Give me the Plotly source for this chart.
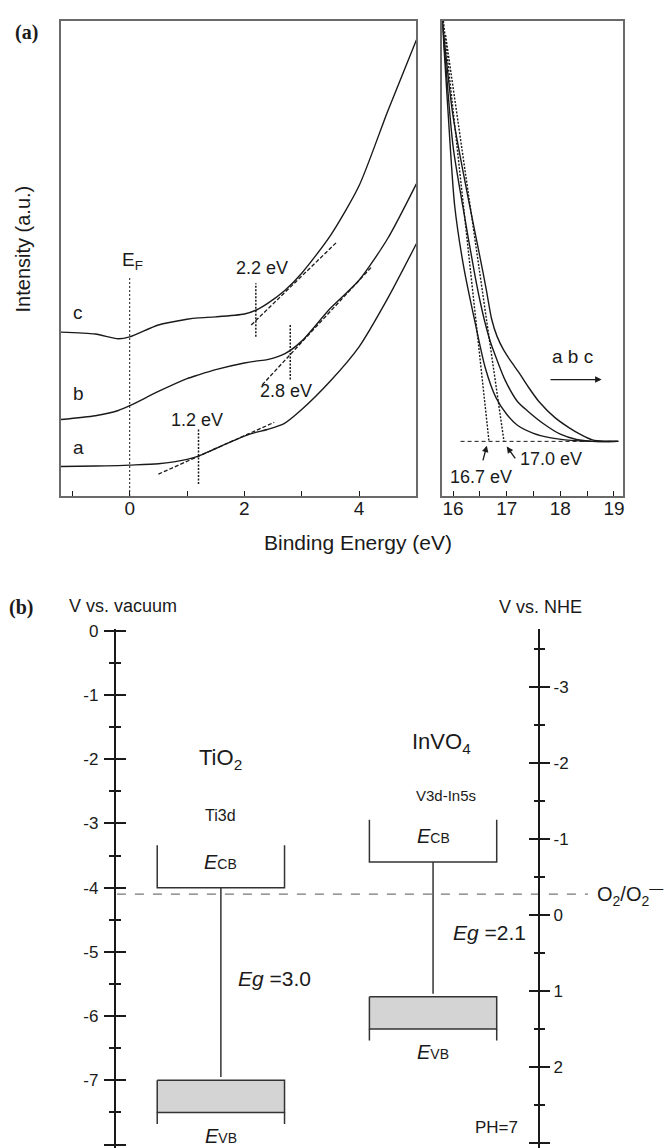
import plotly.graph_objects as go

W, H = 670, 1148
FONT = "Liberation Sans, Arial, sans-serif"
SERIF = "Liberation Serif, Times New Roman, serif"
INK = "#1a1a1a"

# ---------------- Panel (a) data ----------------
be_valence = [-1.2, -0.6, -0.2, 0, 0.5, 1.0, 1.2, 1.5, 2.0, 2.2, 2.4, 2.7, 3.0, 3.5, 4.0, 4.5, 5.0]
int_a = [6.2, 6.3, 6.4, 6.5, 6.8, 7.7, 8.4, 10.0, 12.6, 13.4, 14.0, 15.3, 18.2, 24.2, 31.4, 41.6, 53.1]
int_b = [16.1, 16.9, 18.0, 19.0, 22.0, 24.7, 25.5, 26.6, 28.0, 28.4, 28.7, 29.9, 32.6, 39.5, 45.4, 54.2, 65.7]
int_c = [34.5, 34.1, 33.1, 33.5, 36.0, 37.2, 37.5, 37.7, 38.3, 39.1, 40.5, 43.2, 46.9, 54.8, 65.3, 81.0, 96.0]

# leading-edge tangents (x pairs, y pairs)
tan_a_x, tan_a_y = [0.5, 2.52], [4.6, 15.5]
tan_b_x, tan_b_y = [2.31, 4.21], [23.4, 48.1]
tan_c_x, tan_c_y = [2.12, 3.6], [36.0, 53.3]
onsets = [1.2, 2.8, 2.2]            # a, b, c
onset_spans = [[2.5, 14.0], [24.5, 36.0], [33.5, 44.8]]
fermi_span = [0, 46.0]

# secondary electron cutoff region
be_cut_a = [15.8, 15.9, 16.03, 16.2, 16.42, 16.6, 16.8, 17.0, 17.2, 17.5, 17.8, 18.2, 18.6, 19.08]
cut_a = [100, 82.0, 61.1, 48.1, 36.0, 27.0, 20.7, 17.2, 14.9, 13.2, 12.3, 11.7, 11.5, 11.5]
be_cut_b = [15.8, 16.0, 16.18, 16.4, 16.5, 16.6, 16.7, 16.8, 16.97, 17.2, 17.4, 17.7, 18.0, 18.3, 18.6, 19.08]
cut_b = [100, 73.6, 61.1, 46.9, 41.2, 36.3, 32.3, 29.2, 24.4, 19.9, 17.8, 15.1, 13.0, 11.9, 11.5, 11.5]
be_cut_c = [15.8, 16.0, 16.31, 16.5, 16.62, 16.72, 16.82, 16.95, 17.1, 17.25, 17.4, 17.6, 17.9, 18.16, 18.4, 18.6, 18.8, 19.08]
cut_c = [100, 79.9, 61.1, 50.4, 43.4, 37.2, 33.6, 30.6, 28.0, 25.6, 23.0, 19.9, 16.5, 14.4, 12.8, 11.8, 11.5, 11.5]
cutoff_values = [16.67, 16.95]
cutoff_tan_top = [[15.82, 100], [15.86, 97]]
baseline_x = [16.14, 19.08]
baseline_y = 11.5

# ---------------- Panel (b) data ----------------
materials = ["TiO<sub>2</sub>", "InVO<sub>4</sub>"]
orbitals = ["Ti3d", "V3d-In5s"]
centers = [1, 2]
cb_edge = [-4.0, -3.6]
vb_edge = [-7.0, -5.7]
band_gap = [3.0, 2.1]
o2_level = -4.1
vac_ticks = [0, -1, -2, -3, -4, -5, -6, -7, -8]
vac_ticktext = ["0", "-1", "-2", "-3", "-4", "-5", "-6", "-7", "-8"]
vac_minor = [-0.5, -1.5, -2.5, -3.5, -4.5, -5.5, -6.5, -7.5]
nhe_ticks = [-3, -2, -1, 0, 1, 2, 3]
nhe_ticktext = ["-3", "-2", "-1", "0", "1", "2", "3"]
nhe_minor = [-3.5, -2.5, -1.5, -0.5, 0.5, 1.5, 2.5]

fig = go.Figure()

def line(x, y, xa, ya, dash="solid", width=1.4, color=INK, shape="linear"):
    fig.add_trace(go.Scatter(x=x, y=y, mode="lines", xaxis=xa, yaxis=ya,
                             line=dict(color=color, width=width, dash=dash, shape=shape, smoothing=0.7),
                             showlegend=False, hoverinfo="skip"))

# panel a left
for yy in (int_a, int_b, int_c):
    line(be_valence, yy, "x", "y", shape="spline")
line(tan_a_x, tan_a_y, "x", "y", dash="4px,2px", width=1.3)
line(tan_b_x, tan_b_y, "x", "y", dash="4px,2px", width=1.3)
line(tan_c_x, tan_c_y, "x", "y", dash="4px,2px", width=1.3)
for ox, sp in zip(onsets, onset_spans):
    line([ox, ox], sp, "x", "y", dash="2px,1.5px", width=1.5)
line([0, 0], fermi_span, "x", "y", dash="2px,2px", width=1.0)

# panel a right
for xx, yy in ((be_cut_a, cut_a), (be_cut_b, cut_b), (be_cut_c, cut_c)):
    line(xx, yy, "x2", "y2", shape="spline")
for top, cv in zip(cutoff_tan_top, cutoff_values):
    line([top[0], cv], [top[1], baseline_y], "x2", "y2", dash="2px,1.5px", width=1.4)
line(baseline_x, [baseline_y, baseline_y], "x2", "y2", dash="4px,3px", width=1.0)

# panel b bands
hw = 0.30
for c, cb, vb in zip(centers, cb_edge, vb_edge):
    line([c - hw, c - hw, c + hw, c + hw], [cb + 0.66, cb, cb, cb + 0.66], "x3", "y3", width=1.5, color="#333")
    line([c, c], [cb, vb + 0.05], "x3", "y3", width=1.5, color="#333")
    fig.add_trace(go.Scatter(x=[c - hw, c + hw, c + hw, c - hw, c - hw],
                             y=[vb, vb, vb - 0.5, vb - 0.5, vb], mode="lines", fill="toself",
                             fillcolor="#d4d4d4", line=dict(color="#333", width=1.5),
                             xaxis="x3", yaxis="y3", showlegend=False, hoverinfo="skip"))
    line([c - hw, c - hw], [vb - 0.5, vb - 0.68], "x3", "y3", width=1.5, color="#333")
    line([c + hw, c + hw], [vb - 0.5, vb - 0.68], "x3", "y3", width=1.5, color="#333")
line([0.51, 2.73], [o2_level, o2_level], "x3", "y3", dash="dash", width=1.2, color="#777")

for ya in ("y4", "y5", "y6"):
    fig.add_trace(go.Scatter(x=[None], y=[None], xaxis="x3", yaxis=ya, showlegend=False, hoverinfo="skip"))

# ---------------- layout ----------------
def py(p):
    return 1 - p / H

ax_common = dict(showgrid=False, zeroline=False, showline=True, mirror=True,
                 linecolor="#6a6a6a", linewidth=1.5)
tickfont = dict(family=FONT, size=19, color=INK)

layout = dict(
    width=W, height=H, margin=dict(l=0, r=0, t=0, b=0),
    paper_bgcolor="white", plot_bgcolor="white", showlegend=False,
    xaxis=dict(domain=[61 / W, 417 / W], range=[-1.2, 5], anchor="y",
               tickvals=[0, 2, 4], ticktext=["0", "2", "4"], ticks="inside", ticklen=5,
               tickcolor=INK, tickwidth=1.3, tickfont=tickfont, ticklabelstandoff=-6,
               minor=dict(tickvals=[-1, 1, 3], ticks="inside", ticklen=5, tickcolor=INK, tickwidth=1.3),
               **ax_common),
    yaxis=dict(domain=[py(492), py(14)], range=[0, 100], anchor="x",
               showticklabels=False, ticks="", **ax_common),
    xaxis2=dict(domain=[443 / W, 624 / W], range=[15.8, 19.17], anchor="y2",
                tickvals=[16, 17, 18, 19], ticktext=["16", "17", "18", "19"], ticks="inside", ticklen=5,
                tickcolor=INK, tickwidth=1.3, tickfont=tickfont, ticklabelstandoff=-6,
                minor=dict(tickvals=[16.5, 17.5, 18.5], ticks="inside", ticklen=5, tickcolor=INK, tickwidth=1.3),
                **ax_common),
    yaxis2=dict(domain=[py(492), py(14)], range=[0, 100], anchor="x2",
                showticklabels=False, ticks="", **ax_common),
    xaxis3=dict(domain=[0, 1], range=[-0.041, 3.112], anchor="y3", visible=False),
)

vac_range = [-8.054, 0.026]
nhe_range = [3.068, -3.756]
ydom_b = [0, py(626)]
pos_vac = 115 / W
pos_nhe = 540 / W
bfont = dict(family=FONT, size=17, color=INK)
base_b = dict(showgrid=False, zeroline=False, tickcolor=INK, tickwidth=2)
layout["yaxis3"] = dict(domain=ydom_b, range=vac_range, anchor="free", position=pos_vac, side="left",
                        showline=True, linecolor=INK, linewidth=2,
                        tickvals=vac_ticks, ticktext=vac_ticktext, ticks="outside", ticklen=10,
                        tickfont=bfont, ticklabelstandoff=2,
                        minor=dict(tickvals=vac_minor, ticks="outside", ticklen=5, tickcolor=INK, tickwidth=2),
                        **base_b)
layout["yaxis4"] = dict(range=vac_range, overlaying="y3", anchor="free", position=pos_vac, side="left",
                        showline=False, tickvals=vac_ticks, showticklabels=False, ticks="inside", ticklen=10,
                        minor=dict(tickvals=vac_minor, ticks="inside", ticklen=5, tickcolor=INK, tickwidth=2),
                        **base_b)
layout["yaxis5"] = dict(range=nhe_range, overlaying="y3", anchor="free", position=pos_nhe, side="right",
                        showline=True, linecolor=INK, linewidth=2,
                        tickvals=nhe_ticks, ticktext=nhe_ticktext, ticks="outside", ticklen=10,
                        tickfont=bfont,
                        minor=dict(tickvals=nhe_minor, ticks="outside", ticklen=5, tickcolor=INK, tickwidth=2),
                        **base_b)
layout["yaxis6"] = dict(range=nhe_range, overlaying="y3", anchor="free", position=pos_nhe, side="right",
                        showline=False, tickvals=nhe_ticks, showticklabels=False, ticks="inside", ticklen=10,
                        minor=dict(tickvals=nhe_minor, ticks="inside", ticklen=5, tickcolor=INK, tickwidth=2),
                        **base_b)

fig.update_layout(**layout)

ann = []
def txt(text, x, y, xref="paper", yref="paper", size=18, family=FONT, angle=0, xanchor="center"):
    ann.append(dict(text=text, x=x, y=y, xref=xref, yref=yref, showarrow=False,
                    font=dict(family=family, size=size, color=INK), textangle=angle,
                    xanchor=xanchor, yanchor="middle"))

# panel a texts
txt("<b>(a)</b>", 27 / W, py(26), size=20, family=SERIF)
txt("Intensity (a.u.)", 23 / W, py(243), size=20, angle=-90)
txt("Binding Energy (eV)", 359 / W, py(539), size=21)
txt("E<sub>F</sub>", 0.05, 49.5, "x", "y", size=19)
txt("2.2 eV", 2.3, 47.9, "x", "y", size=18)
txt("2.8 eV", 2.72, 22.2, "x", "y", size=18)
txt("1.2 eV", 1.18, 16.1, "x", "y", size=18)
txt("c", -0.9, 38.7, "x", "y", size=19)
txt("b", -0.89, 21.5, "x", "y", size=19)
txt("a", -0.89, 10.3, "x", "y", size=19)
txt("16.7 eV", 16.52, 4.0, "x2", "y2", size=18)
txt("17.0 eV", 17.82, 7.7, "x2", "y2", size=18)
txt("a b c", 18.22, 29.4, "x2", "y2", size=19)

def arrow(x, y, ax, ay, xr, yr):
    ann.append(dict(text="", x=x, y=y, ax=ax, ay=ay, xref=xr, yref=yr, axref=xr, ayref=yr,
                    showarrow=True, arrowhead=2, arrowsize=1, arrowwidth=1.3, arrowcolor=INK))

arrow(16.63, 10.6, 16.55, 7.2, "x2", "y2")
arrow(17.0, 10.4, 17.18, 7.6, "x2", "y2")
arrow(18.77, 24.5, 17.79, 24.5, "x2", "y2")

# panel b texts
txt("<b>(b)</b>", 21 / W, py(604), size=20, family=SERIF)
txt("V vs. vacuum", 123 / W, py(603), size=18)
txt("V vs. NHE", 541 / W, py(604), size=18)
label_y = [-2.0, -1.74]
orb_y = [-2.87, -2.56]
label_x = [1.0, 2.04]
orb_x = [1.0, 2.06]
for i in range(2):
    txt(materials[i], label_x[i], label_y[i], "x3", "y3", size=22)
    txt(orbitals[i], orb_x[i], orb_y[i], "x3", "y3", size=16 if i == 0 else 15)
    txt("<i>E</i><span style='font-size:14px'>CB</span>", centers[i], cb_edge[i] + 0.4, "x3", "y3", size=20)
    txt("<i>E</i><span style='font-size:14px'>VB</span>", centers[i], vb_edge[i] - 0.86, "x3", "y3", size=20)
txt("<i>Eg</i> =%.1f" % band_gap[0], 1.253, -5.42, "x3", "y3", size=21)
txt("<i>Eg</i> =%.1f" % band_gap[1], 2.265, -4.70, "x3", "y3", size=21)
txt("O<sub>2</sub>/O<sub>2</sub><sup>—</sup>", 2.93, o2_level, "x3", "y3", size=20)
txt("PH=7", 2.30, -7.73, "x3", "y3", size=17)

fig.update_layout(annotations=ann)
fig.write_html("out.html")
